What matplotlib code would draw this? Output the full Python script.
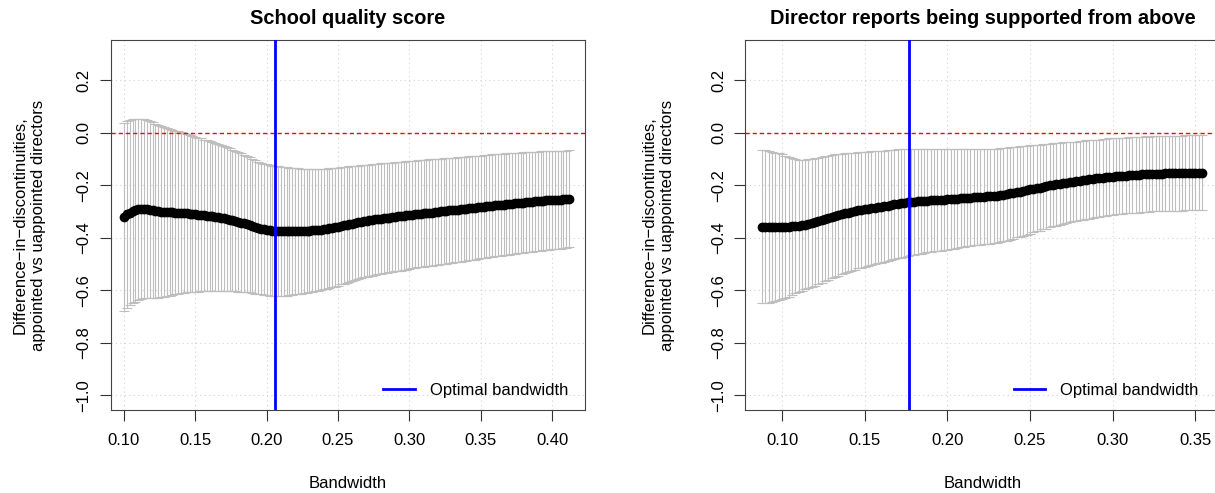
import numpy as np
import matplotlib
matplotlib.use('Agg')
import matplotlib.pyplot as plt
from matplotlib.lines import Line2D

plt.rcParams['font.family'] = ['Liberation Sans', 'DejaVu Sans']

# ---- data ----
# left panel: school quality score, bandwidths 0.100 .. 0.412 by 0.002
bw_school = np.round(np.arange(0.100, 0.4121, 0.002), 3)
est_school = [
    -0.320, -0.311, -0.304, -0.299, -0.295, -0.292, -0.291, -0.290, -0.291, -0.293,
    -0.295, -0.298, -0.300, -0.301, -0.302, -0.302, -0.303, -0.303, -0.304, -0.304,
    -0.305, -0.306, -0.307, -0.308, -0.310, -0.311, -0.312, -0.313, -0.315, -0.316,
    -0.317, -0.319, -0.320, -0.322, -0.324, -0.326, -0.328, -0.331, -0.334, -0.337,
    -0.340, -0.342, -0.345, -0.348, -0.351, -0.355, -0.359, -0.362, -0.365, -0.368,
    -0.370, -0.372, -0.373, -0.374, -0.375, -0.375, -0.375, -0.376, -0.376, -0.376,
    -0.375, -0.375, -0.375, -0.374, -0.374, -0.373, -0.372, -0.371, -0.370, -0.369,
    -0.367, -0.366, -0.364, -0.362, -0.360, -0.358, -0.355, -0.353, -0.350, -0.348,
    -0.346, -0.343, -0.341, -0.339, -0.337, -0.335, -0.334, -0.332, -0.330, -0.329,
    -0.327, -0.326, -0.325, -0.323, -0.322, -0.320, -0.319, -0.318, -0.316, -0.315,
    -0.313, -0.312, -0.311, -0.309, -0.308, -0.307, -0.306, -0.305, -0.304, -0.302,
    -0.301, -0.300, -0.299, -0.298, -0.296, -0.295, -0.294, -0.293, -0.292, -0.290,
    -0.289, -0.288, -0.287, -0.286, -0.284, -0.283, -0.282, -0.281, -0.280, -0.278,
    -0.277, -0.276, -0.275, -0.274, -0.272, -0.271, -0.270, -0.269, -0.268, -0.267,
    -0.266, -0.265, -0.264, -0.263, -0.262, -0.261, -0.260, -0.259, -0.258, -0.258,
    -0.257, -0.256, -0.256, -0.255, -0.254, -0.253, -0.252]
ci_school = [
    0.358, 0.356, 0.354, 0.351, 0.349, 0.346, 0.344, 0.341, 0.339, 0.336,
    0.334, 0.331, 0.329, 0.326, 0.323, 0.320, 0.317, 0.315, 0.312, 0.309,
    0.306, 0.303, 0.301, 0.299, 0.297, 0.295, 0.293, 0.291, 0.289, 0.287,
    0.285, 0.283, 0.281, 0.279, 0.277, 0.275, 0.273, 0.271, 0.269, 0.267,
    0.265, 0.263, 0.261, 0.259, 0.257, 0.256, 0.254, 0.252, 0.251, 0.250,
    0.249, 0.248, 0.248, 0.247, 0.247, 0.246, 0.245, 0.244, 0.243, 0.242,
    0.240, 0.239, 0.238, 0.237, 0.236, 0.235, 0.234, 0.233, 0.232, 0.231,
    0.230, 0.229, 0.228, 0.227, 0.226, 0.225, 0.223, 0.222, 0.221, 0.220,
    0.218, 0.217, 0.216, 0.215, 0.214, 0.213, 0.212, 0.212, 0.211, 0.211,
    0.210, 0.210, 0.209, 0.209, 0.208, 0.208, 0.207, 0.207, 0.206, 0.206,
    0.205, 0.205, 0.204, 0.204, 0.204, 0.203, 0.203, 0.203, 0.202, 0.202,
    0.202, 0.201, 0.201, 0.201, 0.200, 0.200, 0.199, 0.199, 0.199, 0.198,
    0.198, 0.198, 0.197, 0.197, 0.197, 0.196, 0.196, 0.195, 0.195, 0.195,
    0.194, 0.194, 0.194, 0.193, 0.193, 0.193, 0.192, 0.192, 0.191, 0.191,
    0.191, 0.190, 0.190, 0.190, 0.189, 0.189, 0.189, 0.188, 0.188, 0.187,
    0.187, 0.187, 0.186, 0.186, 0.186, 0.185, 0.185]
opt_school = 0.206

# right panel: director supported from above, bandwidths 0.088 .. 0.354 by 0.002
bw_support = np.round(np.arange(0.088, 0.3541, 0.002), 3)
est_support = [
    -0.358, -0.358, -0.359, -0.359, -0.359, -0.359, -0.359, -0.358, -0.358, -0.357,
    -0.356, -0.355, -0.353, -0.350, -0.347, -0.343, -0.340, -0.336, -0.332, -0.328,
    -0.324, -0.320, -0.316, -0.313, -0.310, -0.307, -0.304, -0.301, -0.299, -0.296,
    -0.294, -0.292, -0.290, -0.288, -0.286, -0.284, -0.282, -0.280, -0.278, -0.276,
    -0.273, -0.271, -0.269, -0.267, -0.265, -0.264, -0.263, -0.262, -0.261, -0.260,
    -0.259, -0.258, -0.257, -0.256, -0.256, -0.255, -0.254, -0.253, -0.252, -0.251,
    -0.250, -0.249, -0.248, -0.247, -0.246, -0.245, -0.244, -0.243, -0.242, -0.242,
    -0.241, -0.240, -0.239, -0.236, -0.234, -0.231, -0.229, -0.226, -0.224, -0.221,
    -0.219, -0.216, -0.214, -0.211, -0.209, -0.206, -0.204, -0.201, -0.199, -0.197,
    -0.194, -0.192, -0.190, -0.188, -0.186, -0.185, -0.183, -0.181, -0.179, -0.178,
    -0.176, -0.174, -0.173, -0.171, -0.170, -0.168, -0.167, -0.166, -0.165, -0.164,
    -0.163, -0.162, -0.161, -0.161, -0.160, -0.159, -0.158, -0.158, -0.157, -0.157,
    -0.156, -0.156, -0.155, -0.155, -0.155, -0.154, -0.154, -0.154, -0.153, -0.153,
    -0.153, -0.152, -0.152, -0.152]
ci_support = [
    0.292, 0.291, 0.289, 0.286, 0.283, 0.280, 0.276, 0.271, 0.266, 0.261,
    0.256, 0.251, 0.248, 0.246, 0.245, 0.244, 0.243, 0.241, 0.240, 0.238,
    0.236, 0.235, 0.233, 0.231, 0.230, 0.228, 0.226, 0.224, 0.223, 0.221,
    0.220, 0.219, 0.218, 0.217, 0.215, 0.214, 0.213, 0.212, 0.211, 0.210,
    0.209, 0.208, 0.207, 0.206, 0.204, 0.203, 0.202, 0.201, 0.200, 0.198,
    0.197, 0.196, 0.195, 0.194, 0.193, 0.192, 0.191, 0.190, 0.189, 0.188,
    0.187, 0.186, 0.185, 0.184, 0.183, 0.183, 0.182, 0.182, 0.181, 0.181,
    0.180, 0.179, 0.179, 0.178, 0.177, 0.176, 0.175, 0.173, 0.172, 0.171,
    0.169, 0.168, 0.166, 0.165, 0.164, 0.162, 0.161, 0.159, 0.158, 0.157,
    0.156, 0.155, 0.154, 0.153, 0.152, 0.151, 0.151, 0.150, 0.150, 0.149,
    0.148, 0.148, 0.147, 0.147, 0.146, 0.146, 0.146, 0.145, 0.145, 0.145,
    0.144, 0.144, 0.144, 0.144, 0.144, 0.144, 0.144, 0.143, 0.143, 0.143,
    0.143, 0.143, 0.143, 0.143, 0.143, 0.143, 0.143, 0.143, 0.143, 0.143,
    0.143, 0.143, 0.143, 0.143]
opt_support = 0.177

y_ticks = [-1.0, -0.8, -0.6, -0.4, -0.2, 0.0, 0.2]
ylab = 'Difference\u2212in\u2212discontinuities,\nappointed vs uappointed directors'

W, H = 1215, 493


def panel(ax, bw, est, ci, opt, xlim, xticks):
    ax.set_xlim(*xlim)
    ax.set_ylim(-1.056, 0.353)
    ax.set_xticks(xticks)
    ax.set_yticks(y_ticks)
    ax.set_xticklabels(['%.2f' % t for t in xticks])
    ax.set_yticklabels([('%.1f' % t).replace('-', '\u2212') for t in y_ticks],
                       rotation=90, va='center')
    ax.grid(True, color='#d3d3d3', linestyle=(0, (1, 3)), linewidth=0.8)
    ax.set_axisbelow(True)
    ax.tick_params(axis='both', direction='out', length=7.9, width=0.8,
                   color='#333333', labelsize=12)
    ax.tick_params(axis='x', pad=8.6)
    ax.tick_params(axis='y', pad=5.8)
    for s in ax.spines.values():
        s.set_color('#444444')
        s.set_linewidth(0.8)

    ax.errorbar(bw, est, yerr=ci, fmt='none', ecolor='#bebebe',
                elinewidth=0.8, capsize=3.3, capthick=0.8, zorder=2)
    ax.axhline(0, color='#ff0000', linestyle=(0, (3, 2.2)), linewidth=1.0, zorder=3)
    ax.plot(bw, est, 'o', color='black', markersize=6, zorder=4)
    ax.axvline(opt, color='blue', linewidth=2, zorder=5)


fig = plt.figure(figsize=(W / 100, H / 100), dpi=100)

ax1 = fig.add_axes([110.7 / W, 83 / H, 474 / W, 370 / H])
panel(ax1, bw_school, est_school, ci_school, opt_school,
      (0.0907, 0.4229), [0.10, 0.15, 0.20, 0.25, 0.30, 0.35, 0.40])

ax2 = fig.add_axes([745 / W, 83 / H, 475 / W, 370 / H])
panel(ax2, bw_support, est_support, ci_support, opt_support,
      (0.0776, 0.365), [0.10, 0.15, 0.20, 0.25, 0.30, 0.35])

handle = [Line2D([], [], color='blue', linewidth=2)]
ax1.legend(handle, ['Optimal bandwidth'], loc='center right',
           bbox_to_anchor=(1 - 8 / 474, 20 / 370), frameon=False,
           fontsize=12, borderpad=0, handlelength=1.9, handletextpad=0.9)
ax2.legend(handle, ['Optimal bandwidth'], loc='center right',
           bbox_to_anchor=(1 - 13 / 475, 20 / 370), frameon=False,
           fontsize=12, borderpad=0, handlelength=1.9, handletextpad=0.9)

# titles, axis labels
fig.text(347.7 / W, 1 - 18.5 / H, 'School quality score', ha='center', va='center',
         fontsize=14.4, fontweight='bold')
fig.text(982.5 / W, 1 - 18.5 / H, 'Director reports being supported from above',
         ha='center', va='center', fontsize=14.4, fontweight='bold')
fig.text(347.7 / W, 1 - 483 / H, 'Bandwidth', ha='center', va='center', fontsize=12)
fig.text(982.5 / W, 1 - 483 / H, 'Bandwidth', ha='center', va='center', fontsize=12)
fig.text(29.5 / W, 1 - 225 / H, ylab, rotation=90, ha='center', va='center',
         fontsize=12, linespacing=1.3, multialignment='center')
fig.text(658.2 / W, 1 - 225 / H, ylab, rotation=90, ha='center', va='center',
         fontsize=12, linespacing=1.3, multialignment='center')

fig.savefig('out.png', dpi=100)
